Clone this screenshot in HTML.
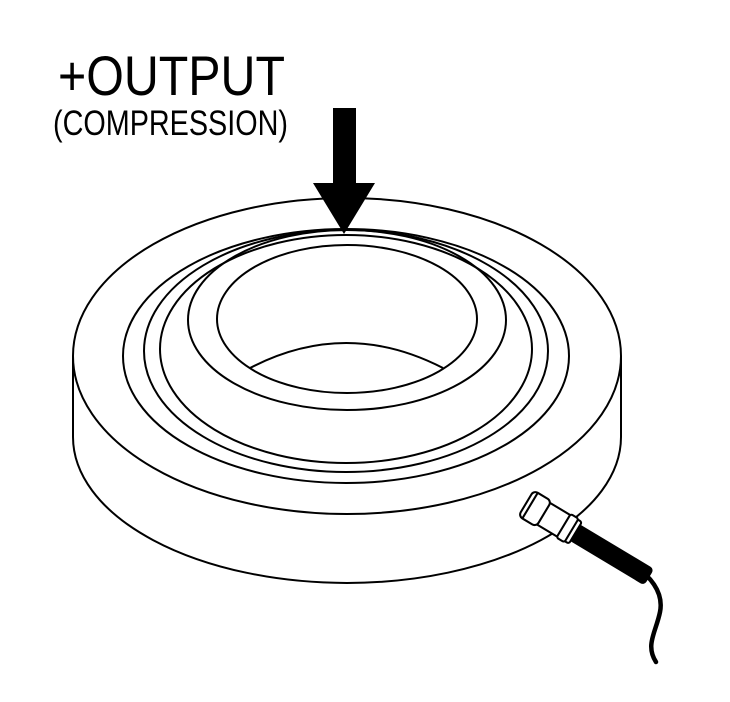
<!DOCTYPE html>
<html><head><meta charset="utf-8"><style>html,body{margin:0;padding:0;background:#fff;width:730px;height:702px;overflow:hidden}</style></head>
<body>
<svg width="730" height="702" viewBox="0 0 730 702" xmlns="http://www.w3.org/2000/svg">
<g fill="none" stroke="#000" stroke-width="2">
  <path d="M73 437 A274 146 0 0 0 621 437"/>
  <line x1="73" y1="356" x2="73" y2="437"/>
  <line x1="621" y1="356" x2="621" y2="437"/>
  <ellipse cx="347" cy="356" rx="274" ry="158" fill="#fff"/>
  <ellipse cx="346" cy="356" rx="223" ry="127"/>
  <ellipse cx="346" cy="351" rx="202" ry="121"/>
  <ellipse cx="346" cy="349" rx="186" ry="114"/>
  <ellipse cx="347" cy="320" rx="159" ry="90"/>
  <ellipse cx="347" cy="319" rx="130" ry="74"/>
  <path d="M250 368 Q346 318 443 368"/>
</g>
<rect x="333" y="108" width="23" height="77" fill="#000"/>
<polygon points="313,183 375,183 344,234" fill="#000"/>
<text x="58" y="95" font-family="Liberation Sans, sans-serif" font-size="56" textLength="227" lengthAdjust="spacingAndGlyphs">+OUTPUT</text>
<text x="53" y="135" font-family="Liberation Sans, sans-serif" font-size="35" textLength="235" lengthAdjust="spacingAndGlyphs">(COMPRESSION)</text>
<path d="M630 563 C650 575 664 592 660 612 C656 632 645 645 656 662" fill="none" stroke="#000" stroke-width="4.5" stroke-linecap="round"/>
<g transform="translate(534,508) rotate(31) scale(1.15)" stroke="#000" stroke-width="1.8">
  <rect x="40" y="-7.5" width="76" height="15" rx="3" fill="#000"/>
  <rect x="8" y="-11" width="34" height="22" rx="2" fill="#fff"/>
  <rect x="30" y="-12" width="8" height="24" rx="2" fill="#fff"/>
  <rect x="-8" y="-13" width="18" height="26" rx="4" fill="#fff"/>
  <line x1="-4" y1="-13" x2="-4" y2="13"/>
</g>
</svg>
</body></html>
